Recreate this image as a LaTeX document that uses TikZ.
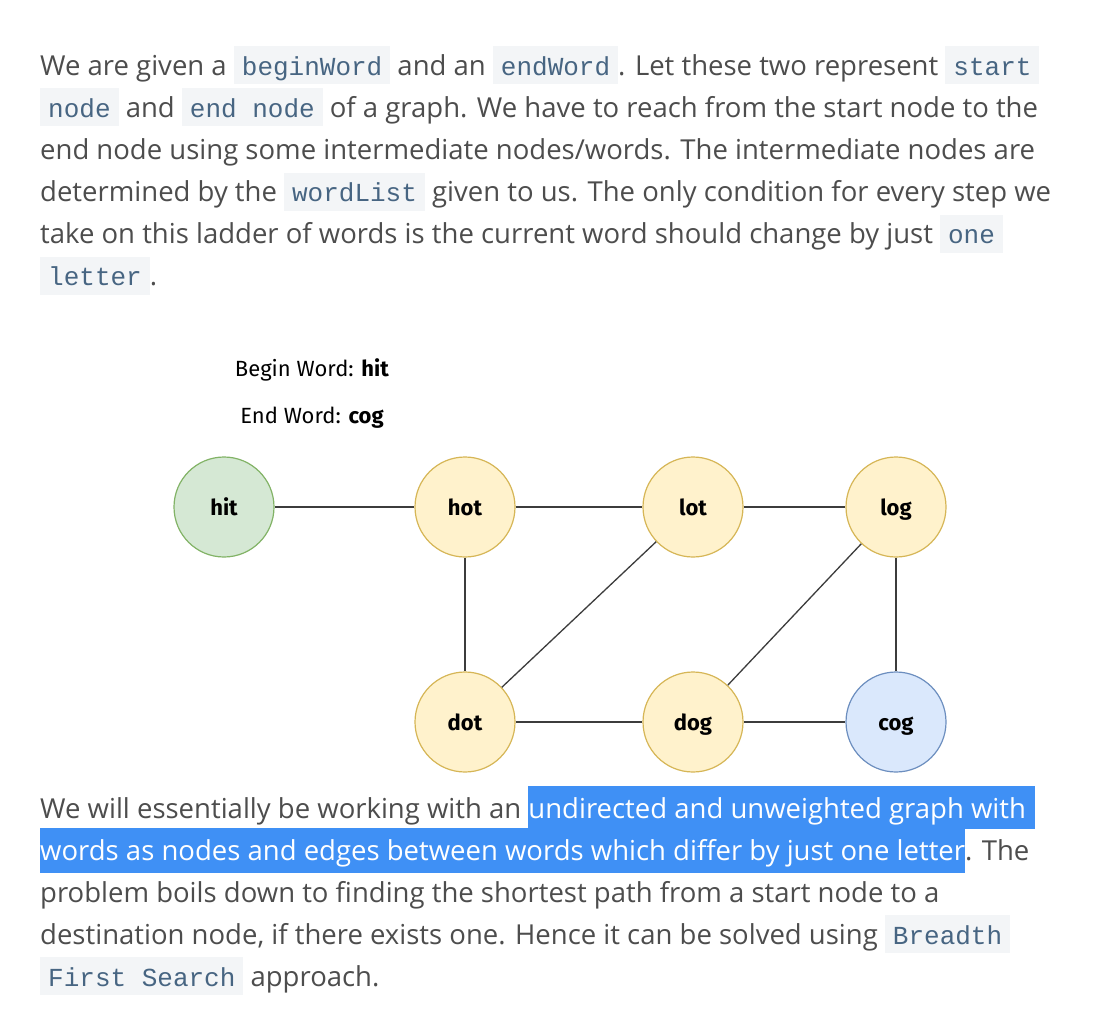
\documentclass[tikz,border=0pt]{standalone}
\usepackage{fontspec}
\usepackage{xcolor}
\setmainfont{Open Sans}
\newfontfamily\codefont{Liberation Mono}
\newfontfamily\diagfont{Fira Sans}
\usetikzlibrary{positioning}
\definecolor{bodytext}{HTML}{4D4D4D}
\definecolor{codefg}{HTML}{476582}
\definecolor{codebg}{HTML}{F3F5F7}
\definecolor{selblue}{HTML}{3F90F5}
\definecolor{edgegray}{HTML}{3C3C3C}
\definecolor{greenfill}{HTML}{D5E8D4}
\definecolor{greenline}{HTML}{82B366}
\definecolor{yellowfill}{HTML}{FFF2CC}
\definecolor{yellowline}{HTML}{D6B656}
\definecolor{bluefill}{HTML}{DAE8FC}
\definecolor{blueline}{HTML}{6C8EBF}

\newcommand{\code}[1]{{\setlength{\fboxsep}{0pt}\colorbox{codebg}{\hspace{8pt}\rule[-9pt]{0pt}{38pt}{\codefont\fontsize{26}{26}\selectfont\color{codefg}#1}\hspace{8pt}}}}
\newcommand{\hl}[2][11pt]{{\setlength{\fboxsep}{0pt}\colorbox{selblue}{\rule[-#1]{0pt}{\dimexpr 32pt+#1\relax}\color{white}#2}}}

\begin{document}
\begin{tikzpicture}[x=1pt, y=-1pt,
  txtline/.style={anchor=base west, inner sep=0pt, text=bodytext, font=\fontsize{27.5}{27.5}\selectfont},
  caption/.style={anchor=base, inner sep=0pt, text=black, font=\diagfont\fontsize{22}{22}\selectfont},
  word/.style={circle, minimum size=100pt, inner sep=0pt, line width=1.2pt, text height=16pt, text depth=0pt, font=\diagfont\bfseries\fontsize{22}{22}\selectfont},
  startword/.style={word, draw=greenline, fill=greenfill},
  midword/.style={word, draw=yellowline, fill=yellowfill},
  endword/.style={word, draw=blueline, fill=bluefill},
  edge/.style={draw=edgegray, line width=1.3pt}]
  \useasboundingbox[fill=white] (0,0) rectangle (1110,1030);

  % first paragraph
  \node[txtline] (a1) at (40,75.5) {We are given a \code{beginWord} and an \code{endWord}. Let these two represent \code{start}};
  \node[txtline] (a2) at (40,117.5) {\code{node} and \code{end node} of a graph. We have to reach from the start node to the};
  \node[txtline] (a3) at (40,159.5) {end node using some intermediate nodes/words. The intermediate nodes are};
  \node[txtline] (a4) at (40,201.5) {determined by the \code{wordList} given to us. The only condition for every step we};
  \node[txtline] (a5) at (40,243.5) {take on this ladder of words is the current word should change by just \code{one}};
  \node[txtline] (a6) at (40,285.5) {\code{letter}.};

  % graph
  \node[caption] (begin) at (312,376) {Begin Word: \textbf{hit}};
  \node[caption] (end) at (312,423) {End Word: \textbf{cog}};

  \node[startword] (hit) at (224,507) {hit};
  \node[midword] (hot) at (465,507) {hot};
  \node[midword] (lot) at (693,507) {lot};
  \node[midword] (log) at (896,507) {log};
  \node[midword] (dot) at (465,722) {dot};
  \node[midword] (dog) at (693,722) {dog};
  \node[endword] (cog) at (896,722) {cog};

  \draw[edge] (hit) -- (hot);
  \draw[edge] (hot) -- (lot);
  \draw[edge] (lot) -- (log);
  \draw[edge] (hot) -- (dot);
  \draw[edge] (dot) -- (lot);
  \draw[edge] (dot) -- (dog);
  \draw[edge] (dog) -- (log);
  \draw[edge] (dog) -- (cog);
  \draw[edge] (log) -- (cog);

  % second paragraph
  \node[txtline] (b1) at (40,818) {We will essentially be working with an \hl{undirected and unweighted graph with\hspace{9pt}}};
  \node[txtline] (b2) at (40,860) {\hl[13pt]{words as nodes and edges between words which differ by just one letter}. The};
  \node[txtline] (b3) at (40,902) {problem boils down to finding the shortest path from a start node to a};
  \node[txtline] (b4) at (40,944) {destination node, if there exists one. Hence it can be solved using \code{Breadth}};
  \node[txtline] (b5) at (40,986) {\code{First Search} approach.};
\end{tikzpicture}
\end{document}
